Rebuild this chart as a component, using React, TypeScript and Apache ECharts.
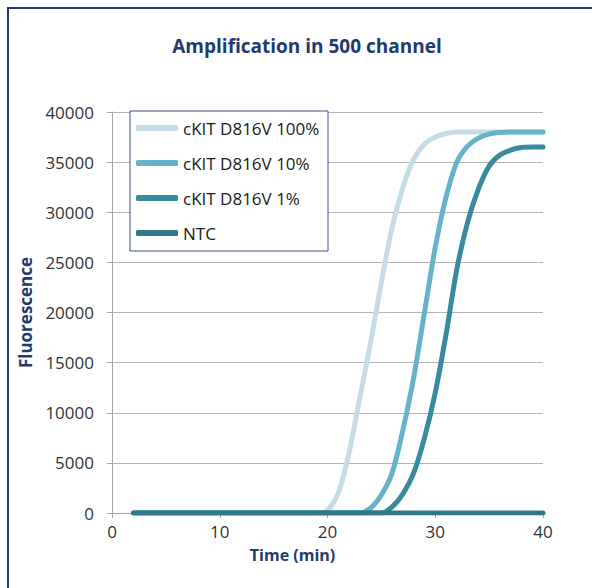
import React, { useEffect, useRef } from "react";
import * as echarts from "echarts";

const TITLE = "Amplification in 500 channel";
const X_NAME = "Time (min)";
const Y_NAME = "Fluorescence";
const SERIES_NAMES = ["cKIT D816V 100%", "cKIT D816V 10%", "cKIT D816V 1%", "NTC"];
const SERIES_COLORS = ["#c5dce6", "#65b3cb", "#388b9e", "#2f788b"];

const times = [2, 18, 19, 20, 21, 22, 23, 24, 25, 26, 27, 28, 29, 30, 31, 32, 33, 34, 35, 36, 37, 38, 39, 40];
const v100 = [0, 0, 0, 300, 2000, 6000, 11500, 17000, 23000, 28500, 32500, 35300, 36800, 37500, 37850, 38000, 38000, 38000, 38000, 38000, 38000, 38000, 38000, 38000];
const v10 = [0, 0, 0, 0, 0, 0, 0, 500, 1800, 4000, 8300, 13500, 20000, 26500, 31500, 35000, 36600, 37400, 37800, 37950, 38000, 38000, 38000, 38000];
const v1 = [0, 0, 0, 0, 0, 0, 0, 0, 0, 600, 1900, 4000, 7500, 12000, 17800, 24300, 29000, 32300, 34600, 35700, 36200, 36450, 36500, 36500];
const vNTC = [0, 0, 0, 0, 0, 0, 0, 0, 0, 0, 0, 0, 0, 0, 0, 0, 0, 0, 0, 0, 0, 0, 0, 0];

const seriesValues = [v100, v10, v1, vNTC];

export default function App() {
  const ref = useRef<HTMLDivElement>(null);
  useEffect(() => {
    if (!ref.current) return;
    const chart = echarts.init(ref.current, null, { renderer: "svg" });
    const font = "'Open Sans', 'Noto Sans', sans-serif";
    chart.setOption({
      animation: false,
      backgroundColor: "#ffffff",
      title: {
        text: TITLE,
        left: 302,
        top: 31,
        textAlign: "center",
        textStyle: { color: "#1f3a6e", fontSize: 19, fontWeight: "bold", fontFamily: font },
      },
      grid: { left: 112, right: 49, top: 112, bottom: 75, containLabel: false },
      xAxis: {
        type: "value",
        min: 0,
        max: 40,
        interval: 10,
        name: X_NAME,
        nameLocation: "middle",
        nameGap: 34,
        nameTextStyle: { color: "#1f3a6e", fontSize: 16, fontWeight: "bold", fontFamily: font, padding: [0, 70, 0, 0] },
        axisLine: { show: true, onZero: false, lineStyle: { color: "#a6a6a6" } },
        axisTick: { show: true, length: 5, lineStyle: { color: "#a6a6a6" } },
        axisLabel: { color: "#333333", fontSize: 17, fontFamily: font, margin: 10 },
        splitLine: { show: false },
      },
      yAxis: {
        type: "value",
        min: 0,
        max: 40000,
        interval: 5000,
        name: Y_NAME,
        nameLocation: "middle",
        nameGap: 61,
        nameRotate: 90,
        nameTextStyle: { color: "#1f3a6e", fontSize: 17, fontWeight: "bold", fontFamily: font },
        axisLine: { show: true, lineStyle: { color: "#a6a6a6" } },
        axisTick: { show: true, length: 5, lineStyle: { color: "#a6a6a6" } },
        axisLabel: {
          color: "#333333",
          fontSize: 17,
          fontFamily: font,
          margin: 18,
          formatter: (v: number) => String(v),
        },
        splitLine: { show: true, lineStyle: { color: "#b3b3b3", width: 1 } },
      },
      legend: {
        show: true,
        orient: "vertical",
        left: 136,
        top: 119,
        padding: 0,
        itemGap: 17,
        itemWidth: 42,
        itemHeight: 6,
        icon: "roundRect",
        z: 6,
        data: SERIES_NAMES,
        textStyle: { color: "#1a1a1a", fontSize: 17, fontFamily: font, lineHeight: 18 },
      },
      graphic: [
        {
          type: "rect",
          z: 5,
          shape: { x: 130, y: 111, width: 198, height: 140 },
          style: { fill: "#ffffff", stroke: "#3d4f86", lineWidth: 1 },
        },
        {
          type: "line",
          z: 5,
          shape: { x1: 7, y1: 8, x2: 600, y2: 8 },
          style: { stroke: "#1f3a6e", lineWidth: 2 },
        },
        {
          type: "line",
          z: 5,
          shape: { x1: 8, y1: 7, x2: 8, y2: 600 },
          style: { stroke: "#1f3a6e", lineWidth: 2 },
        },
      ],
      series: SERIES_NAMES.map((name, i) => ({
        name,
        type: "line",
        data: times.map((t, j) => [t, seriesValues[i][j]]),
        smooth: 0.3,
        symbol: "none",
        lineStyle: { width: 5, color: SERIES_COLORS[i], cap: "round" },
        itemStyle: { color: SERIES_COLORS[i] },
        z: 2 + i,
      })),
    });
    return () => chart.dispose();
  }, []);
  return (
    <div
      ref={ref}
      style={{ position: "fixed", left: 0, top: 0, width: 592, height: 588, overflow: "hidden" }}
    />
  );
}
